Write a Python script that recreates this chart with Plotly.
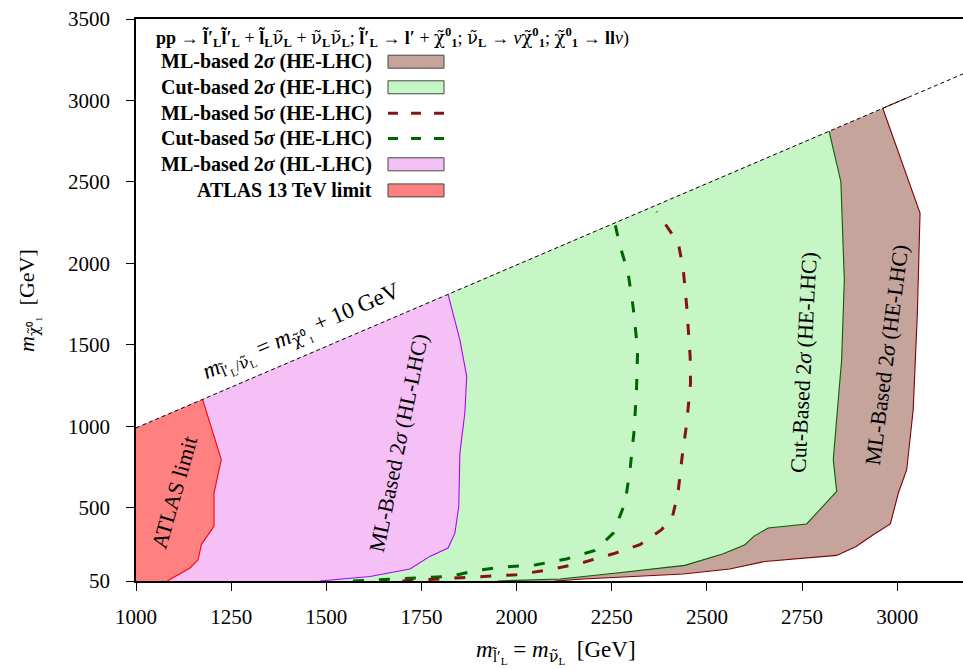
import plotly.graph_objects as go

# ------------------------------------------------------------------ data
x_ticks = [1000, 1250, 1500, 1750, 2000, 2250, 2500, 2750, 3000]
y_ticks = [50, 500, 1000, 1500, 2000, 2500, 3000, 3500]

# kinematic boundary m_slepton = m_chi + 10 GeV
diag_x = [1000, 3175]
diag_y = [990, 3165]

# ML-based 2 sigma (HE-LHC) region
ml2he_x = [1000, 3028, 2962, 3060, 3053, 3042, 3025, 3003, 2982, 2937, 2892, 2841, 2652, 2560, 2438, 2175, 2100, 1000]
ml2he_y = [990, 3018, 2952, 2308, 1694, 1101, 733, 590, 400, 334, 262, 207, 170, 124, 93, 62, 50, 50]

# Cut-based 2 sigma (HE-LHC) region
cut2he_x = [1000, 2821, 2852, 2861, 2854, 2832, 2841, 2762, 2661, 2623, 2600, 2543, 2442, 2263, 2114, 1950, 1000]
cut2he_y = [990, 2811, 2501, 1898, 1408, 794, 600, 400, 375, 324, 273, 217, 146, 99, 62, 50, 50]

# ML-based 2 sigma (HL-LHC) region
ml2hl_x = [1000, 1820, 1851, 1869, 1864, 1851, 1848, 1838, 1820, 1772, 1720, 1615, 1483, 1000]
ml2hl_y = [990, 1810, 1530, 1305, 1081, 835, 508, 344, 252, 201, 124, 78, 50, 50]

# ATLAS 13 TeV limit region
atlas_x = [1000, 1175, 1224, 1205, 1205, 1172, 1163, 1142, 1082, 1000]
atlas_y = [990, 1165, 795, 590, 385, 275, 180, 130, 50, 50]

# 5 sigma contours (HE-LHC)
ml5he_x = [1700, 1842, 1912, 2000, 2088, 2175, 2254, 2324, 2381, 2410, 2420, 2425, 2435, 2447, 2457, 2456, 2447, 2438, 2425, 2368]
ml5he_y = [50, 68, 78, 89, 119, 164, 217, 273, 365, 450, 549, 610, 814, 1019, 1265, 1428, 1735, 1960, 2124, 2318]
cut5he_x = [1570, 1700, 1825, 1895, 1965, 2052, 2131, 2206, 2254, 2285, 2298, 2309, 2315, 2318, 2306, 2293, 2271, 2258]
cut5he_y = [50, 62, 78, 115, 136, 150, 185, 238, 344, 530, 733, 978, 1224, 1469, 1735, 1940, 2113, 2248]

# ------------------------------------------------------------------ style
FONT = "Liberation Serif"
C_ML2HE, E_ML2HE = "rgb(197,164,156)", "rgb(128,0,0)"
C_CUT2HE, E_CUT2HE = "rgb(198,246,198)", "rgb(0,100,0)"
C_ML2HL, E_ML2HL = "rgb(245,192,245)", "rgb(180,0,255)"
C_ATLAS, E_ATLAS = "rgb(255,128,128)", "rgb(255,0,0)"
C_ML5, C_CUT5 = "rgb(135,20,20)", "rgb(0,100,0)"

W, H = 963, 669
ML, MR, MT, MB = 136, 0, 19, 88
PW, PH = W - ML - MR, H - MT - MB


def px(xp):
    return (xp - ML) / PW


def py(yp):
    return (H - MB - yp) / PH


fig = go.Figure()


def region(xs, ys, fill, edge):
    fig.add_trace(go.Scatter(x=xs, y=ys, mode="lines", fill="toself", fillcolor=fill,
                             line=dict(width=0), hoverinfo="skip", showlegend=False))
    fig.add_trace(go.Scatter(x=xs[1:-1], y=ys[1:-1], mode="lines",
                             line=dict(color=edge, width=1.1), hoverinfo="skip", showlegend=False))


region(ml2he_x, ml2he_y, C_ML2HE, E_ML2HE)
region(cut2he_x, cut2he_y, C_CUT2HE, E_CUT2HE)
region(ml2hl_x, ml2hl_y, C_ML2HL, E_ML2HL)
region(atlas_x, atlas_y, C_ATLAS, E_ATLAS)

fig.add_trace(go.Scatter(x=cut5he_x, y=cut5he_y, mode="lines",
                         line=dict(color=C_CUT5, width=3, dash="11px,15px"), showlegend=False))
fig.add_trace(go.Scatter(x=ml5he_x, y=ml5he_y, mode="lines",
                         line=dict(color=C_ML5, width=3, dash="11px,15px"), showlegend=False))
fig.add_trace(go.Scatter(x=diag_x, y=diag_y, mode="lines",
                         line=dict(color="black", width=1, dash="4px,3px"), showlegend=False))

# ------------------------------------------------------------------ text helpers
def B(s):
    return f"<b>{s}</b>"


def DV(s):
    # glyphs with combining tilde are set in DejaVu Serif (better mark placement)
    return f"<span style=\"font-family:'DejaVu Serif'\">{s}</span>"


NU_T = DV("ν̃")
CHI_T = DV("χ̃")
chi = CHI_T + "<sup>" + B("0") + "</sup><sub>" + B("1") + "</sub>"
nuL = NU_T + "<sub>" + B("L") + "</sub>"
lpL = B("l̃′") + "<sub>" + B("L") + "</sub>"
lL = B("l̃") + "<sub>" + B("L") + "</sub>"
title_txt = (B("pp") + " → " + lpL + lpL + " + " + lL + nuL + " + " + nuL + nuL + "; "
             + lpL + " → " + B("l′") + " + " + chi + "; " + nuL + " → <i>ν</i>" + chi + "; "
             + chi + " → " + B("ll") + "<i>ν</i>)")

annotations = [dict(text=title_txt, x=px(154), y=py(38), xref="paper", yref="paper",
                    xanchor="left", yanchor="middle", showarrow=False,
                    font=dict(family=FONT, size=18, color="black"))]

legend_rows = [
    ("ML-based 2<i>σ</i> (HE-LHC)", "rect", C_ML2HE),
    ("Cut-based 2<i>σ</i> (HE-LHC)", "rect", C_CUT2HE),
    ("ML-based 5<i>σ</i> (HE-LHC)", "dash", C_ML5),
    ("Cut-based 5<i>σ</i> (HE-LHC)", "dash", C_CUT5),
    ("ML-based 2<i>σ</i> (HL-LHC)", "rect", C_ML2HL),
    ("ATLAS 13 TeV limit", "rect", C_ATLAS),
]
row_y = [61.7, 87.3, 113.3, 138.6, 164.3, 190.4]
shapes = []
for (lab, kind, col), yc in zip(legend_rows, row_y):
    annotations.append(dict(text="<b>" + lab + "</b>", x=px(374), y=py(yc), xref="paper", yref="paper",
                            xanchor="right", yanchor="middle", showarrow=False,
                            font=dict(family=FONT, size=20, color="black")))
    if kind == "rect":
        shapes.append(dict(type="rect", xref="paper", yref="paper",
                           x0=px(388), x1=px(444), y0=py(yc - 6.5), y1=py(yc + 6.5),
                           fillcolor=col, line=dict(color="rgb(70,70,70)", width=1)))
    else:
        shapes.append(dict(type="line", xref="paper", yref="paper",
                           x0=px(388), x1=px(444.5), y0=py(yc), y1=py(yc),
                           line=dict(color=col, width=3, dash="10px,13px")))

# ------------------------------------------------------------------ in-plot labels
def lab(text, xp, yp, ang, size=22):
    annotations.append(dict(text=text, x=px(xp), y=py(yp), xref="paper", yref="paper",
                            xanchor="center", yanchor="middle", showarrow=False, textangle=ang,
                            font=dict(family=FONT, size=size, color="black")))


lab("ATLAS limit", 174, 492, -74)
lab("ML-Based 2<i>σ</i> (HL-LHC)", 398, 443, -78.4)
lab("Cut-Based 2<i>σ</i> (HE-LHC)", 803, 363, -87)
lab("ML-Based 2<i>σ</i> (HE-LHC)", 886, 355, -82.6)
lab("<i>m</i><sub>l̃′<sub>L</sub>/" + NU_T + "<sub>L</sub></sub> = <i>m</i><sub>" + CHI_T + "⁰₁</sub> + 10 GeV",
    302, 333, -23.2, 23)

# axis titles
annotations.append(dict(text="<i>m</i><sub>l̃′<sub>L</sub></sub> = <i>m</i><sub>" + NU_T + "<sub>L</sub></sub>  [GeV]",
                        x=px(556), y=py(652), xref="paper", yref="paper",
                        xanchor="center", yanchor="middle", showarrow=False,
                        font=dict(family=FONT, size=23, color="black")))
annotations.append(dict(text="<i>m</i><sub>" + CHI_T + "⁰₁</sub>  [GeV]", x=px(28), y=py(300),
                        xref="paper", yref="paper", xanchor="center", yanchor="middle",
                        showarrow=False, textangle=-90,
                        font=dict(family=FONT, size=22, color="black")))

axis_common = dict(showline=True, linecolor="black", linewidth=1.5, ticks="outside",
                   ticklen=8, tickwidth=1.2, tickcolor="black", showgrid=False, zeroline=False,
                   tickfont=dict(family=FONT, size=21, color="black"))

fig.update_layout(
    width=W, height=H,
    margin=dict(l=ML, r=MR, t=MT, b=MB, pad=0),
    paper_bgcolor="white", plot_bgcolor="white",
    xaxis=dict(range=[1000, 1000 + PW / 0.3806], tickvals=x_ticks, mirror=True,
               ticklabelstandoff=8, **axis_common),
    yaxis=dict(range=[50, 3500], tickvals=y_ticks, mirror=False,
               ticklabelstandoff=12, **axis_common),
    annotations=annotations, shapes=shapes, showlegend=False,
)

fig.write_html("out.html")
